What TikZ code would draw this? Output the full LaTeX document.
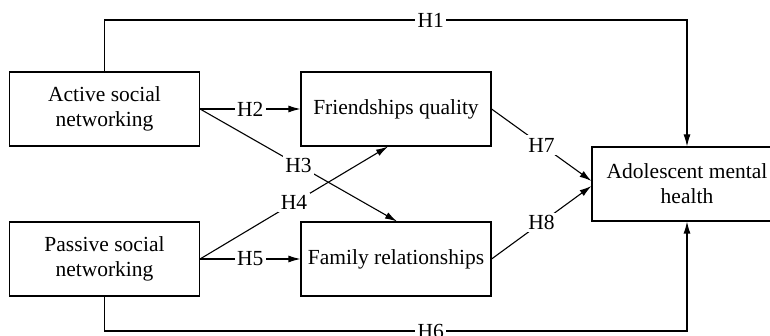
\documentclass[tikz,border=0pt]{standalone}
\usepackage{fontspec}
\setmainfont{Liberation Serif}
\usetikzlibrary{arrows.meta}
\begin{document}
\begin{tikzpicture}[x=1pt,y=-1pt,
  box/.style={draw, line width=1.1pt, minimum width=190pt, minimum height=74pt, inner sep=0pt, align=center, font=\fontsize{21.5}{25}\selectfont},
  conn/.style={line width=1.1pt, -{Latex[length=12pt,width=7pt]}},
  lab/.style={fill=white, inner sep=2.5pt, font=\fontsize{21.5}{25}\selectfont}]
\useasboundingbox (0,0) rectangle (770,336);
\clip (0,0) rectangle (770,336);
\node[box] (act) at (104.5,109) {Active social\\networking};
\node[box] (pas) at (104.5,259) {Passive social\\networking};
\node[box] (fri) at (396,109) {Friendships quality};
\node[box] (fam) at (396,259) {Family relationships};
\node[box] (ado) at (687,184) {Adolescent mental\\health};
\coordinate (top) at (0,20);
\coordinate (bot) at (0,331);
\draw[conn] (act.north) -- (act.north |- top) -- node[lab,pos=0.56]{H1} (ado.north |- top) -- (ado.north);
\draw[conn] (pas.south) -- (pas.south |- bot) -- node[lab,pos=0.56]{H6} (ado.south |- bot) -- (ado.south);
\draw[conn] (act.east) -- node[lab]{H2} (fri.west);
\draw[conn] (pas.east) -- node[lab]{H5} (fam.west);
\draw[conn] (act.east) -- node[lab]{H3} ([xshift=1pt]fam.north);
\draw[conn] (pas.east) -- node[lab]{H4} ([xshift=-8pt]fri.south);
\draw[conn] (fri.east) -- node[lab]{H7} ([yshift=3pt]ado.west);
\draw[conn] (fam.east) -- node[lab]{H8} ([yshift=-2pt]ado.west);
\end{tikzpicture}
\end{document}
